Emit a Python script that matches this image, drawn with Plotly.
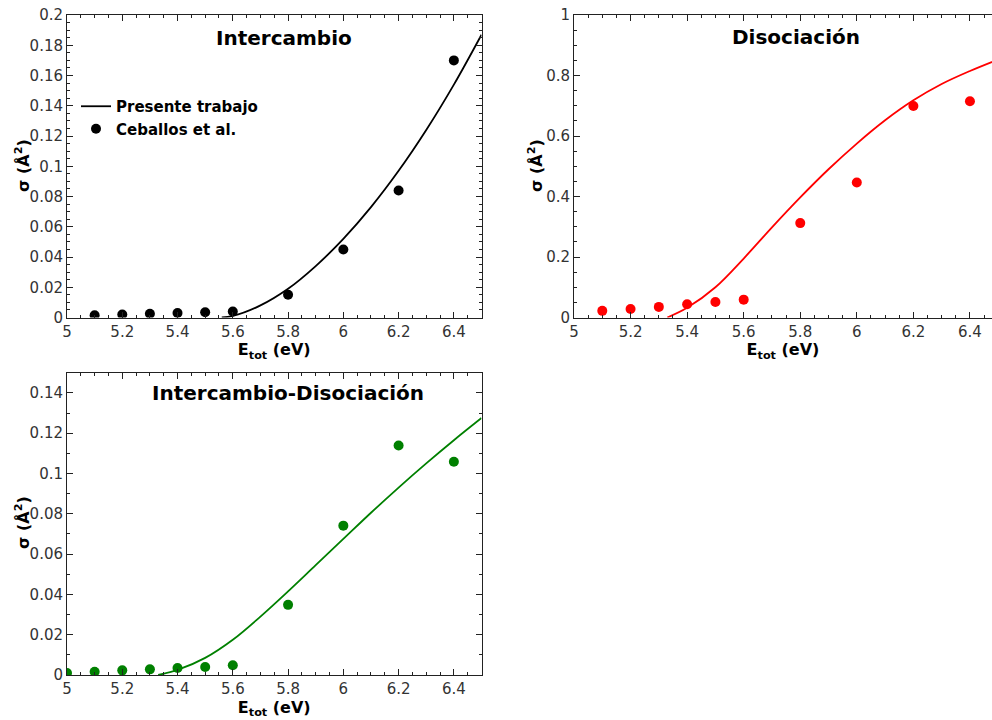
import plotly.graph_objects as go

# ---- data ------------------------------------------------------------
# Intercambio
exp_x_int = [5.1, 5.2, 5.3, 5.4, 5.5, 5.6, 5.8, 6.0, 6.2, 6.4]
exp_y_int = [0.0015, 0.002, 0.0025, 0.003, 0.0035, 0.004, 0.015, 0.045, 0.084, 0.17]
calc_x_int = [5.56, 5.6, 5.7, 5.8, 5.9, 6.0, 6.1, 6.2, 6.3, 6.4, 6.5]
calc_y_int = [0.0, 0.001, 0.008, 0.019, 0.034, 0.052, 0.073, 0.097, 0.124, 0.154, 0.187]

# Disociación
exp_x_dis = [5.1, 5.2, 5.3, 5.4, 5.5, 5.6, 5.8, 6.0, 6.2, 6.4]
exp_y_dis = [0.022, 0.028, 0.035, 0.044, 0.051, 0.059, 0.312, 0.446, 0.699, 0.715]
calc_x_dis = [5.33, 5.4, 5.5, 5.6, 5.7, 5.8, 5.9, 6.0, 6.1, 6.2, 6.3, 6.4, 6.5]
calc_y_dis = [0.0, 0.032, 0.10, 0.195, 0.298, 0.397, 0.49, 0.575, 0.652, 0.718, 0.772, 0.815, 0.853]

# Intercambio-Disociación
exp_x_id = [5.0, 5.1, 5.2, 5.3, 5.4, 5.5, 5.6, 5.8, 6.0, 6.2, 6.4]
exp_y_id = [0.001, 0.0016, 0.0023, 0.0028, 0.0035, 0.004, 0.0048, 0.0348, 0.0741, 0.1139, 0.1058]
calc_x_id = [5.33, 5.4, 5.5, 5.6, 5.7, 5.8, 5.9, 6.0, 6.1, 6.2, 6.3, 6.4, 6.5]
calc_y_id = [0.0, 0.0025, 0.0085, 0.0175, 0.029, 0.0415, 0.0545, 0.0675, 0.0805, 0.093, 0.105, 0.1165, 0.1275]

panel_titles = ["Intercambio", "Disociación", "Intercambio-Disociación"]
legend_names = ["Presente trabajo", "Ceballos et al."]
x_title = "<b>E<sub>tot</sub> (eV)</b>"
y_title = "<b>σ (Å<sup>2</sup>)</b>"

FONT = "DejaVu Sans"
W, H = 992, 720

fig = go.Figure()

panels = [
    ("x", "y", calc_x_int, calc_y_int, exp_x_int, exp_y_int, "black", True),
    ("x2", "y2", calc_x_dis, calc_y_dis, exp_x_dis, exp_y_dis, "#ff0000", False),
    ("x3", "y3", calc_x_id, calc_y_id, exp_x_id, exp_y_id, "#008000", False),
]
for xa, ya, cx, cy, ex, ey, col, show in panels:
    fig.add_trace(go.Scatter(
        x=cx, y=cy, xaxis=xa, yaxis=ya, mode="lines",
        line=dict(color=col, width=1.8, shape="spline", smoothing=1.0),
        name=legend_names[0], showlegend=show))
    fig.add_trace(go.Scatter(
        x=ex, y=ey, xaxis=xa, yaxis=ya, mode="markers",
        marker=dict(color=col, size=10),
        name=legend_names[1], showlegend=show))


def xaxis(domain, rng, anchor):
    return dict(
        domain=domain, range=rng, anchor=anchor, automargin=False,
        tick0=5, dtick=0.2, ticks="inside", ticklen=6, tickwidth=1,
        tickcolor="#222", showline=True, linecolor="#222", linewidth=1,
        mirror="ticks",
        minor=dict(tick0=5, dtick=0.05, ticks="inside", ticklen=3,
                   tickcolor="#222"),
        showgrid=False, zeroline=False,
        tickfont=dict(family=FONT, size=15, color="#333"),
        title=dict(text=x_title,
                   font=dict(family=FONT, size=16, color="black"),
                   standoff=4),
    )


def yaxis(domain, rng, anchor, dtick, minor_dtick, mirror=True):
    return dict(
        domain=domain, range=rng, anchor=anchor, automargin=False,
        tick0=0, dtick=dtick, ticks="inside", ticklen=6, tickwidth=1,
        tickcolor="#222", showline=True, linecolor="#222", linewidth=1,
        mirror="ticks" if mirror else False,
        minor=dict(tick0=0, dtick=minor_dtick, ticks="inside", ticklen=3,
                   tickcolor="#222"),
        showgrid=False, zeroline=False,
        tickfont=dict(family=FONT, size=15, color="#333"),
    )


top = [1 - 317.5 / H, 1 - 15 / H]
bottom = [1 - 675 / H, 1 - 372.7 / H]
left = [67 / W, 481.5 / W]
right = [574 / W, 1.0]

fig.update_layout(
    width=W, height=H,
    margin=dict(l=0, r=0, t=0, b=0, autoexpand=False),
    paper_bgcolor="white", plot_bgcolor="white",
    font=dict(family=FONT),
    xaxis=xaxis(left, [5, 6.5], "y"),
    yaxis=yaxis(top, [0, 0.2], "x", 0.02, 0.005),
    xaxis2=xaxis(right, [5, 6.478], "y2"),
    yaxis2=yaxis(top, [0, 1], "x2", 0.2, 0.05, mirror=False),
    xaxis3=xaxis(left, [5, 6.5], "y3"),
    yaxis3=yaxis(bottom, [0, 0.15], "x3", 0.02, 0.01),
    legend=dict(x=76 / W, y=1 - 90 / H, xanchor="left", yanchor="top",
                bgcolor="rgba(0,0,0,0)", borderwidth=0,
                font=dict(family=FONT, size=15, color="black", weight="bold"),
                itemwidth=30, tracegroupgap=0),
    showlegend=True,
)

# panel titles
title_pos = [(284, 38), (796, 37), (288, 393)]
for text, (px, py) in zip(panel_titles, title_pos):
    fig.add_annotation(
        text=f"<b>{text}</b>", x=px / W, y=1 - py / H, xref="paper", yref="paper",
        xanchor="center", yanchor="middle", showarrow=False,
        font=dict(family=FONT, size=20, color="black"))

# vertical axis titles
ytitle_pos = [(22, 166), (535, 166), (22, 523)]
for px, py in ytitle_pos:
    fig.add_annotation(
        text=y_title, x=px / W, y=1 - py / H, xref="paper", yref="paper",
        xanchor="center", yanchor="middle", showarrow=False, textangle=-90,
        font=dict(family=FONT, size=16, color="black"))

fig.write_html("out.html")
